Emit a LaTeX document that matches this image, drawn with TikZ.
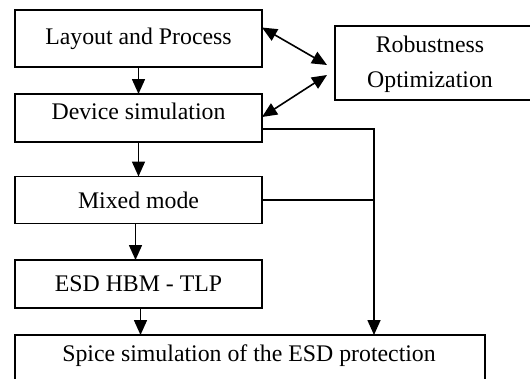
\documentclass[tikz,border=0pt]{standalone}
\usepackage{fontspec}
\setmainfont{Liberation Serif}
\usetikzlibrary{arrows.meta}
\begin{document}
\begin{tikzpicture}[x=1pt,y=-1pt,
  box/.style={draw,line width=1.5pt,inner sep=0pt,outer sep=0pt,minimum width=247pt},
  lbl/.style={inner sep=0pt,font=\fontsize{23.8}{35}\selectfont,align=center},
  conn/.style={line width=1.6pt},
  arr/.style={line width=1.6pt,-{Triangle[length=15pt,width=13pt]}},
  darr/.style={line width=1.6pt,{Triangle[length=15pt,width=13pt]}-{Triangle[length=15pt,width=13pt]}}]
\useasboundingbox (0,0) rectangle (530,378);
\clip (0,0) rectangle (530,378);
\fill[white] (0,0) rectangle (530,378);
% boxes
\node[box,minimum height=57pt] (lay) at (138.5,38.5) {};
\node[lbl] (layt) at (138.5,38.5) {Layout and Process};
\node[box,minimum height=48pt] (dev) at (138.5,118) {};
\node[lbl] (devt) at (138.5,111) {Device simulation};
\node[box,minimum height=47pt] (mix) at (138.5,200) {};
\node[lbl] (mixt) at (138.5,200) {Mixed mode};
\node[box,minimum height=48pt] (esd) at (138.5,284) {};
\node[lbl] (esdt) at (138.5,284) {ESD HBM - TLP};
\node[box,minimum width=470pt,minimum height=70pt] (spice) at (250,370) {};
\node[lbl] (spicet) at (249,356) {Spice simulation of the ESD protection};
\node[box,minimum width=240pt,minimum height=74pt] (rob) at (455,63) {};
\node[lbl] (robt) at (430,64) {Robustness\\Optimization};
\coordinate (bus) at (374,0);
% connectors
\draw[arr] (lay.south) -- (dev.north);
\draw[arr] (dev.south) -- (mix.north);
\draw[arr] ([xshift=-3pt]mix.south) -- ([xshift=-3pt]esd.north);
\draw[arr] ([xshift=2pt]esd.south) -- ([xshift=2pt]esd.south |- spice.north);
\draw[darr] ([yshift=11pt]lay.east) -- ([xshift=-8pt,yshift=-2pt]rob.west);
\draw[darr] ([yshift=1pt]dev.east) -- ([xshift=-8pt,yshift=-12pt]rob.west);
\draw[arr] ([yshift=-11pt]dev.east) -| (bus |- spice.north);
\draw[conn] (mix.east) -- (mix.east -| bus);
\end{tikzpicture}
\end{document}
